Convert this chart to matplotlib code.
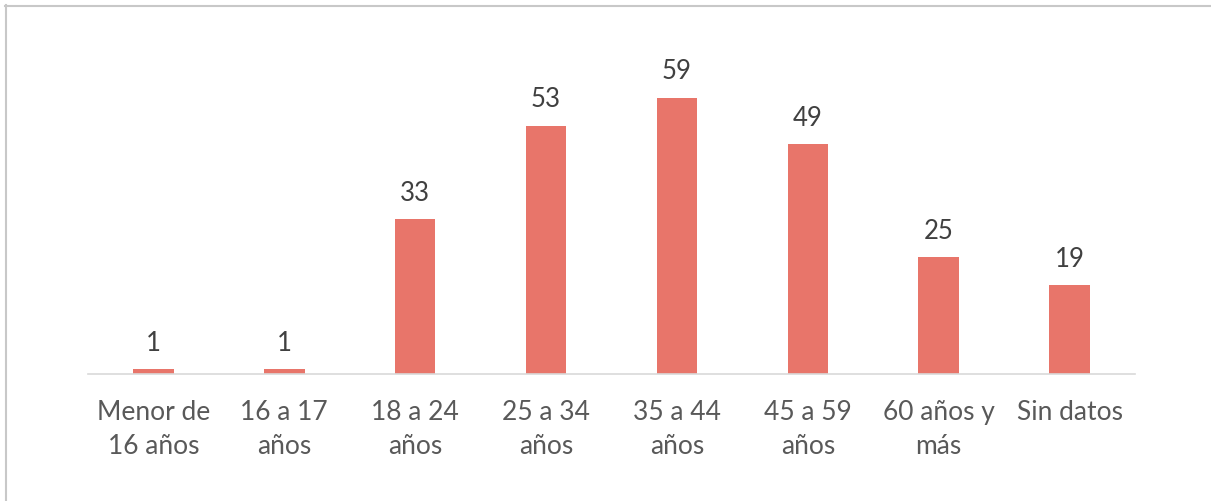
import matplotlib
matplotlib.use('Agg')
from matplotlib import pyplot as plt
import numpy as np

categories = ['Menor de\n16 años', '16 a 17\naños', '18 a 24\naños', '25 a 34\naños',
              '35 a 44\naños', '45 a 59\naños', '60 años y\nmás', 'Sin datos']
values = [1, 1, 33, 53, 59, 49, 25, 19]

bar_color = '#E8756A'
text_color = '#595959'

plt.rcParams['font.family'] = ['Lato', 'DejaVu Sans']

fig = plt.figure(figsize=(12.11, 5.01), dpi=100)
ax = fig.add_axes([88 / 1211, 127 / 501, (1135 - 88) / 1211, (374 - 46) / 501])

x = np.arange(len(categories))
bars = ax.bar(x, values, width=0.31, color=bar_color)
for xi, v in zip(x, values):
    ax.annotate(str(v), (xi, v), xytext=(0, 9.5), textcoords='offset points',
                ha='center', va='bottom', fontsize=18.5, color='#404040')

ax.set_xlim(-0.5, len(categories) - 0.5)
ax.set_ylim(0, 70)
ax.set_yticks([])
ax.set_xticks(x)
ax.set_xticklabels(categories, fontsize=19, color=text_color, linespacing=1.42)
ax.tick_params(axis='x', length=0, pad=19)
for side in ['top', 'right', 'left']:
    ax.spines[side].set_visible(False)
ax.spines['bottom'].set_color('#D9D9D9')
ax.spines['bottom'].set_linewidth(1.2)

# frame of the screenshot: only top and left edges visible
fig.add_artist(plt.Line2D([5 / 1211, 1], [1 - 5.5 / 501, 1 - 5.5 / 501], color='#C8C8C8', lw=1.5))
fig.add_artist(plt.Line2D([5.5 / 1211, 5.5 / 1211], [0, 1 - 5 / 501], color='#C8C8C8', lw=1.5))

fig.savefig('out.png', dpi=100)
